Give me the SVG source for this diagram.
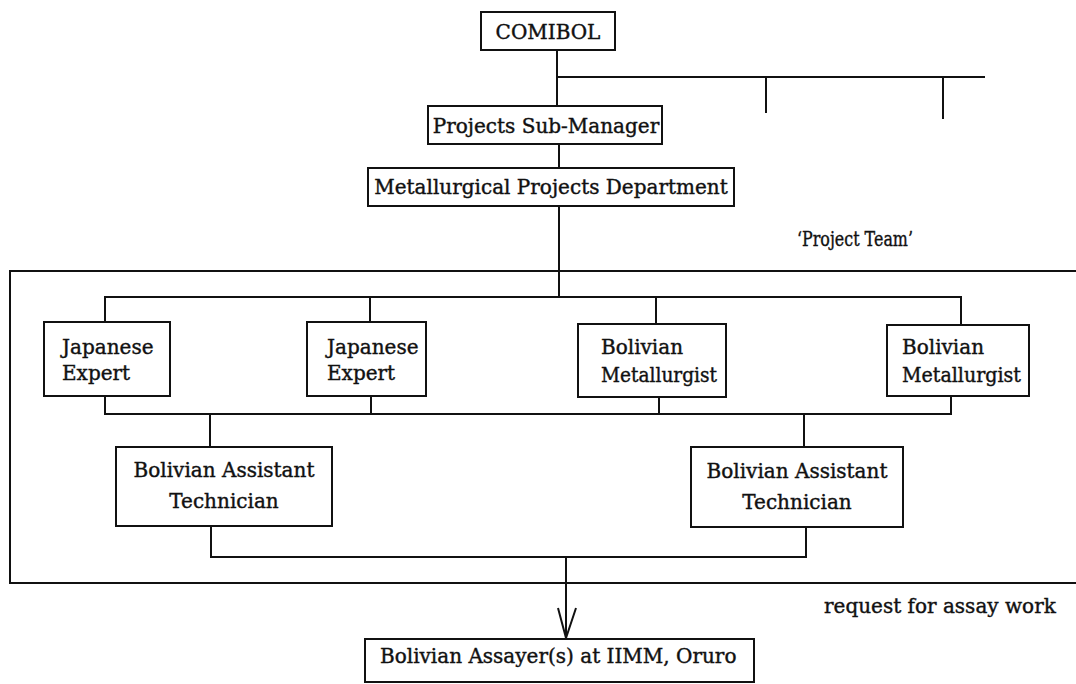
<svg xmlns="http://www.w3.org/2000/svg" width="1076" height="684" viewBox="0 0 1076 684">
<style>
  .box { fill: #fff; stroke: #111; stroke-width: 2; }
  .ln { fill: none; stroke: #111; stroke-width: 2; }
  text { font-family: "DejaVu Serif", "Liberation Serif", serif; font-size: 20px; fill: #111; stroke: #111; stroke-width: 0.4; }
  .c { text-anchor: middle; }
</style>
<rect width="1076" height="684" fill="#fff"/>
<g id="connectors">
  <path class="ln" d="M557 50 V106"/>
  <path class="ln" d="M557 77 H985"/>
  <path class="ln" d="M766 77 V113"/>
  <path class="ln" d="M943 77 V119"/>
  <path class="ln" d="M559 144 V168"/>
  <path class="ln" d="M559 206 V297"/>
  <path class="ln" d="M105 322 V297 H961 V325"/>
  <path class="ln" d="M370 297 V322"/>
  <path class="ln" d="M656 297 V324"/>
  <path class="ln" d="M105 396 V414 H951 V396"/>
  <path class="ln" d="M371 396 V414"/>
  <path class="ln" d="M659 397 V414"/>
  <path class="ln" d="M210 414 V447"/>
  <path class="ln" d="M804 414 V447"/>
  <path class="ln" d="M211 526 V557 H806 V527"/>
  <path class="ln" d="M566 557 V638"/>
  <path class="ln" d="M558 608 L566 638 L576 608"/>
</g>
<g id="project-team">
  <path class="ln" d="M1076 271 H10 V583 H1076"/>
  <text x="797" y="246" font-size="18" textLength="116" lengthAdjust="spacingAndGlyphs">‘Project Team’</text>
</g>
<g id="comibol">
  <rect class="box" x="481" y="12" width="134" height="38"/>
  <text class="c" x="548" y="39" font-size="21">COMIBOL</text>
</g>
<g id="projects-sub-manager">
  <rect class="box" x="428" y="106" width="234" height="38"/>
  <text class="c" x="546" y="133">Projects Sub-Manager</text>
</g>
<g id="metallurgical-projects-department">
  <rect class="box" x="368" y="168" width="366" height="38"/>
  <text class="c" x="551" y="194">Metallurgical Projects Department</text>
</g>
<g id="japanese-expert-1">
  <rect class="box" x="44" y="322" width="126" height="74"/>
  <text x="62" y="354">Japanese</text>
  <text x="62" y="380">Expert</text>
</g>
<g id="japanese-expert-2">
  <rect class="box" x="307" y="322" width="119" height="74"/>
  <text x="327" y="354">Japanese</text>
  <text x="327" y="380">Expert</text>
</g>
<g id="bolivian-metallurgist-1">
  <rect class="box" x="578" y="324" width="148" height="73"/>
  <text x="601" y="354">Bolivian</text>
  <text x="601" y="382" textLength="116" lengthAdjust="spacingAndGlyphs">Metallurgist</text>
</g>
<g id="bolivian-metallurgist-2">
  <rect class="box" x="887" y="325" width="142" height="71"/>
  <text x="902" y="354">Bolivian</text>
  <text x="902" y="382" textLength="119" lengthAdjust="spacingAndGlyphs">Metallurgist</text>
</g>
<g id="bolivian-assistant-technician-1">
  <rect class="box" x="116" y="447" width="216" height="79"/>
  <text class="c" x="224" y="477">Bolivian Assistant</text>
  <text class="c" x="224" y="508">Technician</text>
</g>
<g id="bolivian-assistant-technician-2">
  <rect class="box" x="691" y="447" width="212" height="80"/>
  <text class="c" x="797" y="478">Bolivian Assistant</text>
  <text class="c" x="797" y="509">Technician</text>
</g>
<g id="request-label">
  <text x="824" y="613">request for assay work</text>
</g>
<g id="bolivian-assayers">
  <rect class="box" x="365" y="639" width="389" height="43"/>
  <text x="380" y="663">Bolivian Assayer(s) at IIMM, Oruro</text>
</g>
</svg>
